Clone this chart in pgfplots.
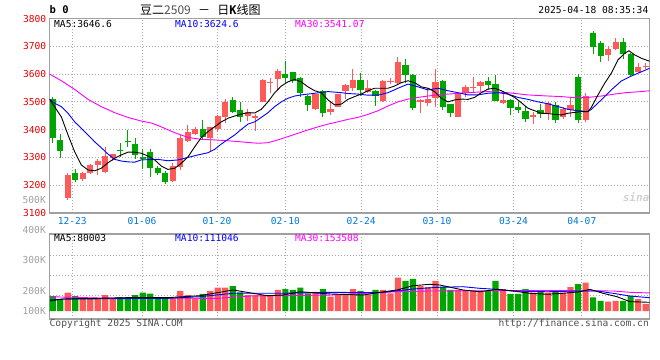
\documentclass[border=0pt]{standalone}
\usepackage{pgfplots}
\pgfplotsset{compat=1.18}
\usepackage{pgfplotstable}
\usepackage{fontspec}
\setmainfont{DejaVu Sans Mono}
\newfontfamily\cjk{Noto Sans CJK SC}
\definecolor{cRed}{HTML}{FF5A5A}
\definecolor{cGreen}{HTML}{00A600}
\definecolor{cLab}{HTML}{E60000}
\definecolor{cDate}{HTML}{0078D7}
\definecolor{cFrame}{HTML}{A0A0A0}
\definecolor{cGrid}{HTML}{A8A8A8}
\definecolor{cGrayTxt}{HTML}{A0A0A0}
\definecolor{cCopy}{HTML}{505050}
\definecolor{cMA10}{HTML}{0000FF}
\definecolor{cMA30}{HTML}{FF00FF}
\newcommand\pf{\fontsize{9.6bp}{11bp}\selectfont}

% rising (red) days: index, open, close, high, low, volume (K)
\pgfplotstableread{
i O C H L V
2 3155 3238 3245 3147 166
4 3221 3243 3249 3215 112
5 3243 3272 3276 3240 112
6 3274 3288 3293 3238 112
7 3248 3305 3336 3243 145
8 3298 3311 3313 3286 112
16 3216 3270 3279 3213 115
17 3264 3371 3380 3255 182
18 3360 3393 3417 3356 145
19 3384 3402 3410 3382 115
21 3369 3408 3410 3320 182
22 3401 3450 3453 3392 212
23 3447 3499 3509 3423 212
26 3450 3462 3474 3431 145
27 3441 3450 3455 3396 145
28 3500 3579 3581 3498 145
29 3568 3572 3585 3533 145
30 3581 3611 3619 3540 191
35 3474 3527 3530 3472 175
37 3462 3474 3498 3453 130
38 3482 3528 3529 3481 152
39 3540 3561 3563 3510 152
40 3549 3579 3617 3540 200
42 3537 3549 3579 3533 152
44 3504 3575 3579 3499 191
45 3570 3574 3586 3564 161
46 3569 3645 3663 3564 303
49 3500 3506 3511 3459 227
50 3497 3510 3549 3485 218
51 3513 3571 3617 3480 273
54 3447 3528 3530 3446 191
55 3531 3552 3561 3519 185
56 3550 3554 3588 3537 185
57 3558 3571 3575 3537 182
60 3497 3507 3540 3492 200
64 3444 3453 3465 3420 166
66 3459 3497 3500 3435 166
68 3444 3473 3480 3439 166
69 3471 3489 3516 3447 218
71 3435 3521 3533 3428 257
74 3669 3690 3701 3648 85
75 3690 3714 3729 3687 93
78 3608 3624 3641 3605 107
79 3625 3629 3639 3617 64
}\redtab

% falling (green) days
\pgfplotstableread{
i O C H L V
0 3510 3369 3518 3353 136
1 3361 3324 3384 3298 109
3 3243 3219 3257 3211 136
9 3328 3324 3353 3300 127
10 3359 3355 3399 3336 127
11 3348 3309 3369 3295 145
12 3300 3296 3329 3259 166
13 3320 3261 3329 3230 159
14 3262 3243 3269 3236 115
15 3245 3213 3250 3204 115
20 3402 3372 3435 3367 155
24 3507 3465 3516 3459 227
25 3471 3447 3500 3428 170
31 3600 3587 3648 3569 200
32 3606 3575 3608 3567 191
33 3587 3531 3589 3519 212
34 3522 3489 3525 3468 161
36 3539 3461 3543 3447 200
41 3579 3543 3603 3521 182
43 3539 3521 3541 3486 191
47 3633 3597 3653 3567 273
48 3597 3479 3599 3471 291
52 3575 3480 3579 3471 221
53 3492 3461 3494 3444 191
58 3575 3561 3588 3543 182
59 3564 3503 3597 3503 273
61 3507 3479 3509 3453 155
62 3480 3471 3500 3461 155
63 3467 3438 3485 3428 200
65 3471 3455 3492 3443 175
67 3489 3435 3500 3425 182
70 3590 3435 3599 3423 245
72 3747 3699 3755 3671 123
73 3713 3665 3720 3645 93
76 3714 3672 3729 3653 93
77 3672 3597 3677 3594 138
}\greentab

\pgfplotsset{
  panel/.style={
    scale only axis, width=600bp, xmin=-0.4, xmax=79.54,
    axis line style={draw=cFrame, line width=1.3bp},
    major tick length=0pt, tick style={draw=none},
    grid=major,
    major grid style={draw=cGrid, line width=0.8bp, dash pattern=on 1bp off 2bp},
    xtick={2.6,11.9,21.9,31,41.1,51.2,61.4,70.5},
  },
  body/.style={draw=none, forget plot, error bars/.cd, y dir=plus, y explicit,
    error mark=none, error bar style={draw=#1, line width=6.2bp}},
  wick/.style={draw=none, forget plot, error bars/.cd, y dir=plus, y explicit,
    error mark=none, error bar style={draw=#1, line width=1bp}},
}

\begin{document}
\begin{tikzpicture}
\path[use as bounding box] (0bp,0bp) rectangle (660bp,360bp);

% ---------------- price panel ----------------
\begin{axis}[panel, at={(49.7bp,147bp)}, anchor=south west, height=194.5bp,
  ymin=3100, ymax=3800, ytick={3100,3200,3300,3400,3500,3600,3700,3800},
  yticklabels={3100,3200,3300,3400,3500,3600,3700,3800},
  yticklabel style={font=\pf, text=cLab},
  xticklabels={12-23,01-06,01-20,02-10,02-24,03-10,03-24,04-07},
  xticklabel style={font=\pf, text=cDate, yshift=-1bp},
]
\addplot[wick=cRed] table[x=i, y=L, y error plus expr=\thisrow{H}-\thisrow{L}] {\redtab};
\addplot[wick=cGreen] table[x=i, y=L, y error plus expr=\thisrow{H}-\thisrow{L}] {\greentab};
\addplot[body=cRed] table[x=i, y=O, y error plus expr=\thisrow{C}-\thisrow{O}] {\redtab};
\addplot[body=cGreen] table[x=i, y=C, y error plus expr=\thisrow{O}-\thisrow{C}] {\greentab};

% MA30
\addplot[cMA30, line width=0.9bp] coordinates {
(-0.4,3600)(1.15,3576)(2.93,3545)(4.70,3509)(6.47,3483)(8.26,3461)(10.03,3444)
(11.80,3431)(13.14,3424)(14.47,3410)(16.25,3389)(18.03,3372)(19.80,3365)
(21.58,3363)(23.36,3360)(25.13,3356)(26.46,3353)(27.35,3351)(28.68,3353)
(30.02,3363)(31.35,3375)(32.68,3387)(34.01,3399)(35.35,3410)(36.68,3420)
(38.01,3428)(39.34,3437)(40.67,3444)(42.01,3455)(43.34,3468)(44.67,3485)
(46.00,3500)(47.34,3510)(48.67,3516)(50.00,3521)(51.33,3525)(52.66,3528)
(55.33,3533)(57.99,3537)(60.66,3533)(63.32,3525)(65.99,3521)(67.76,3519)
(69.54,3515)(71.32,3516)(73.09,3521)(74.87,3528)(76.32,3533)(78.42,3537)(79.54,3540)};
% MA10
\addplot[cMA10, line width=0.9bp] coordinates {
(-0.4,3509)(0.27,3495)(1.15,3483)(2.04,3459)(2.93,3428)(3.81,3405)(4.70,3381)
(5.60,3356)(6.47,3335)(7.37,3312)(8.26,3293)(9.14,3287)(10.03,3284)(10.92,3283)
(11.80,3291)(12.70,3292)(14.03,3293)(15.36,3288)(16.69,3291)(18.03,3300)
(19.36,3309)(20.69,3317)(21.58,3329)(22.46,3348)(23.36,3365)(24.25,3381)
(25.13,3401)(26.02,3420)(26.91,3428)(27.79,3444)(28.68,3461)(29.58,3483)
(30.46,3500)(31.35,3513)(32.24,3521)(33.12,3525)(34.01,3528)(34.91,3531)
(35.78,3534)(36.68,3537)(37.57,3535)(38.45,3533)(39.34,3530)(40.67,3528)
(42.01,3524)(43.34,3524)(44.67,3533)(46.00,3549)(47.34,3564)(48.67,3554)
(50.00,3543)(51.33,3549)(52.66,3540)(54.00,3533)(55.33,3525)(56.66,3525)
(57.99,3531)(59.33,3533)(60.66,3528)(61.99,3516)(63.32,3509)(64.66,3500)
(65.99,3493)(67.32,3483)(68.65,3473)(69.98,3468)(71.32,3465)(71.76,3473)
(73.09,3507)(74.42,3543)(75.76,3575)(77.09,3593)(78.42,3608)(79.54,3621)};
% MA5
\addplot[black, line width=0.9bp] coordinates {
(-0.4,3509)(1.15,3446)(2.04,3381)(2.93,3320)(3.81,3273)(4.70,3255)(5.60,3252)
(6.47,3261)(7.37,3281)(8.26,3297)(9.14,3309)(10.03,3319)(10.92,3319)(11.80,3315)
(12.70,3305)(13.59,3291)(14.47,3269)(15.36,3257)(16.25,3261)(17.13,3279)
(18.03,3302)(18.92,3338)(19.80,3372)(20.69,3393)(21.58,3410)(22.46,3428)
(23.36,3441)(24.25,3449)(25.13,3456)(26.02,3461)(26.91,3460)(27.79,3473)
(28.68,3500)(29.58,3533)(30.46,3557)(31.35,3572)(32.24,3581)(33.12,3572)
(34.01,3554)(34.91,3540)(35.78,3533)(36.68,3507)(37.57,3489)(38.45,3492)
(39.34,3509)(40.23,3519)(41.11,3528)(42.01,3540)(42.90,3549)(43.78,3549)
(44.67,3549)(45.56,3557)(46.44,3569)(47.34,3576)(48.23,3569)(49.11,3554)
(50.00,3549)(50.89,3537)(51.77,3513)(52.66,3500)(53.56,3507)(54.44,3510)
(55.33,3509)(56.22,3516)(57.10,3533)(57.99,3546)(58.89,3549)(59.77,3540)
(60.66,3528)(61.55,3516)(62.43,3497)(63.32,3477)(64.22,3468)(65.10,3459)
(65.99,3458)(66.88,3455)(67.76,3453)(68.65,3459)(69.54,3462)(70.42,3465)
(71.32,3465)(71.76,3480)(72.65,3525)(73.54,3567)(74.42,3603)(75.31,3651)
(76.21,3675)(76.78,3684)(77.54,3669)(78.42,3657)(79.54,3646)};
\end{axis}

% ---------------- volume panel ----------------
\begin{axis}[panel, at={(49.7bp,41bp)}, anchor=south west, height=85bp,
  ymin=-72.7, ymax=700, ytick={139.1,320.9,502.7},
  yticklabels={,,}, xticklabels={,,,,,,,},
]
\addplot[ybar, bar width=6.2bp, bar shift=0pt, fill=cRed, draw=none, forget plot] table[x=i, y=V] {\redtab};
\addplot[ybar, bar width=6.2bp, bar shift=0pt, fill=cGreen, draw=none, forget plot] table[x=i, y=V] {\greentab};
\addplot[cMA30, line width=0.9bp] coordinates {
(-0.36,130)(6.30,118)(21.89,115)(26.29,136)(36.94,145)(45.87,175)(50.27,182)
(59.19,185)(67.99,185)(74.65,182)(76.91,170)(79.54,164)};
\addplot[cMA10, line width=0.9bp] coordinates {
(-0.36,100)(1.37,109)(15.23,115)(19.62,130)(24.02,161)(30.68,161)(36.94,170)
(43.60,166)(48.0,200)(51.2,215)(54.66,221)(56.93,206)(59.19,197)(61.33,182)
(65.86,175)(70.25,182)(72.52,182)(74.65,161)(76.91,136)(79.54,121)};
\addplot[black, line width=0.9bp] coordinates {
(-0.36,91)(1.37,109)(9.90,121)(15.23,121)(19.62,139)(24.02,191)(26.69,161)
(28.55,139)(30.68,145)(32.95,175)(36.94,155)(41.34,145)(43.60,170)(45.87,191)
(48.0,230)(50.27,243)(51.6,236)(54.66,191)(56.93,175)(59.19,197)(61.33,182)
(63.59,161)(65.86,152)(67.99,161)(70.25,175)(71.58,197)(73.32,161)(75.18,130)
(76.91,85)(79.54,79)};
\end{axis}

% ---------------- texts ----------------
\node[anchor=west, inner sep=0pt, font=\fontsize{10.5bp}{12bp}\selectfont\bfseries] at (49.5bp,350.5bp) {b 0};
\node[anchor=west, inner sep=0pt, font=\fontsize{12bp}{14bp}\selectfont] at (140bp,350.5bp)
  {{\cjk 豆二}{\cjk\color{cCopy}2509} {\cjk －} {\cjk 日}\textbf{K}{\cjk 线图}};
\node[anchor=east, inner sep=0pt, font=\pf] at (648.5bp,350bp) {2025-04-18 08:35:34};

\node[anchor=west, inner sep=0pt, font=\pf] at (54bp,336bp) {MA5:3646.6};
\node[anchor=west, inner sep=0pt, font=\pf, text=cMA10] at (175bp,336bp) {MA10:3624.6};
\node[anchor=west, inner sep=0pt, font=\pf, text=cMA30] at (295bp,336bp) {MA30:3541.07};

\node[anchor=west, inner sep=0pt, font=\pf] at (54bp,121.5bp) {MA5:80003};
\node[anchor=west, inner sep=0pt, font=\pf, text=cMA10] at (175bp,121.5bp) {MA10:111046};
\node[anchor=west, inner sep=0pt, font=\pf, text=cMA30] at (295bp,121.5bp) {MA30:153508};

\node[anchor=east, inner sep=0pt, font=\pf, text=cGrayTxt] at (46bp,160bp) {500K};
\node[anchor=east, inner sep=0pt, font=\pf, text=cGrayTxt] at (46bp,130bp) {400K};
\node[anchor=east, inner sep=0pt, font=\pf, text=cGrayTxt] at (46bp,100bp) {300K};
\node[anchor=east, inner sep=0pt, font=\pf, text=cGrayTxt] at (46bp,69bp) {200K};
\node[anchor=east, inner sep=0pt, font=\pf, text=cGrayTxt] at (46bp,49bp) {100K};

\node[anchor=west, inner sep=0pt, font=\pf, text=cCopy] at (49.5bp,36.5bp) {Copyright 2025 SINA.COM};
\node[anchor=east, inner sep=0pt, font=\pf, text=cCopy] at (649bp,36.5bp) {http://finance.sina.com.cn};

\node[font=\fontsize{11bp}{13bp}\selectfont\bfseries\itshape, text=gray!35, inner sep=0pt] at (636bp,163bp) {sina};
\end{tikzpicture}
\end{document}
